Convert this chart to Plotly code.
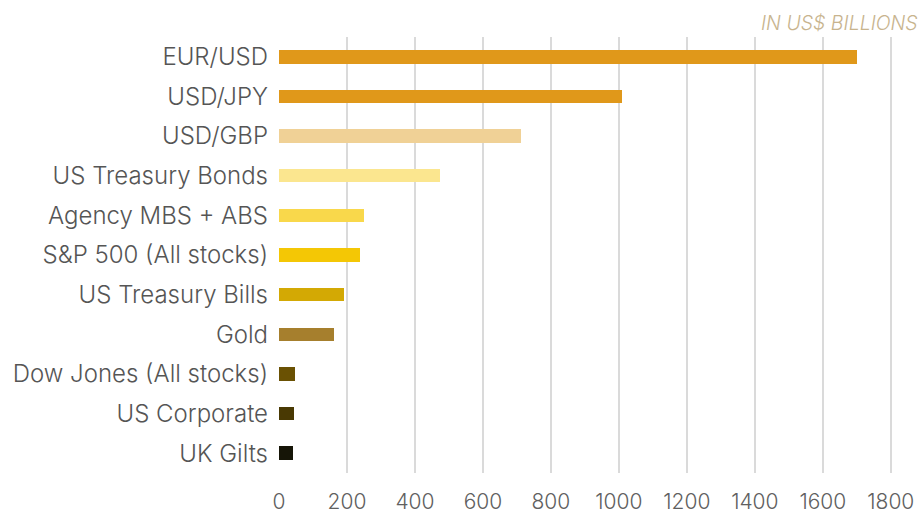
import plotly.graph_objects as go

# Average daily trading volume by market, in US$ billions
markets = [
    "EUR/USD", "USD/JPY", "USD/GBP", "US Treasury Bonds", "Agency MBS + ABS",
    "S&P 500 (All stocks)", "US Treasury Bills", "Gold",
    "Dow Jones (All stocks)", "US Corporate", "UK Gilts",
]
volumes = [1700, 1010, 712, 474, 250, 238, 191, 162, 47, 44, 40]
bar_colors = [
    "#E0981A", "#E0981A", "#F0D196", "#FBE68F", "#F9D84B",
    "#F4C705", "#D3A904", "#A67F2D", "#6A5103", "#493903", "#161507",
]
x_ticks = [0, 200, 400, 600, 800, 1000, 1200, 1400, 1600, 1800]

FONT = "Inter, sans-serif"

fig = go.Figure(
    go.Bar(
        x=volumes,
        y=markets,
        orientation="h",
        marker=dict(color=bar_colors, line=dict(width=0)),
        width=0.34,
        hoverinfo="x+y",
    )
)

fig.update_layout(
    width=922,
    height=514,
    margin=dict(l=279, r=21, t=37, b=41),
    paper_bgcolor="white",
    plot_bgcolor="white",
    font=dict(family=FONT, color="#555555"),
    showlegend=False,
    bargap=0,
    xaxis=dict(
        range=[0, 1830],
        tickvals=x_ticks,
        ticktext=[str(v) for v in x_ticks],
        showgrid=True,
        gridcolor="#DADADA",
        gridwidth=2,
        zeroline=False,
        showline=False,
        ticks="outside",
        ticklen=10,
        tickcolor="rgba(0,0,0,0)",
        tickfont=dict(family=FONT, size=21, color="#606060", weight=300),
        automargin=False,
        fixedrange=True,
    ),
    yaxis=dict(
        categoryorder="array",
        categoryarray=markets[::-1],
        range=[-0.5, len(markets) - 0.5],
        showgrid=False,
        zeroline=False,
        showline=False,
        ticks="",
        ticklabelstandoff=10,
        tickfont=dict(family=FONT, size=24, color="#555555", weight=300),
        automargin=False,
        fixedrange=True,
    ),
    annotations=[
        dict(
            text="<i>IN US$ BILLIONS</i>",
            xref="paper", yref="paper",
            x=1.0, y=1.0,
            xanchor="right", yanchor="bottom",
            xshift=19, yshift=0,
            showarrow=False,
            font=dict(family=FONT, size=19.5, color="#C8B48E", weight=300),
        )
    ],
)

fig.write_html("out.html")
